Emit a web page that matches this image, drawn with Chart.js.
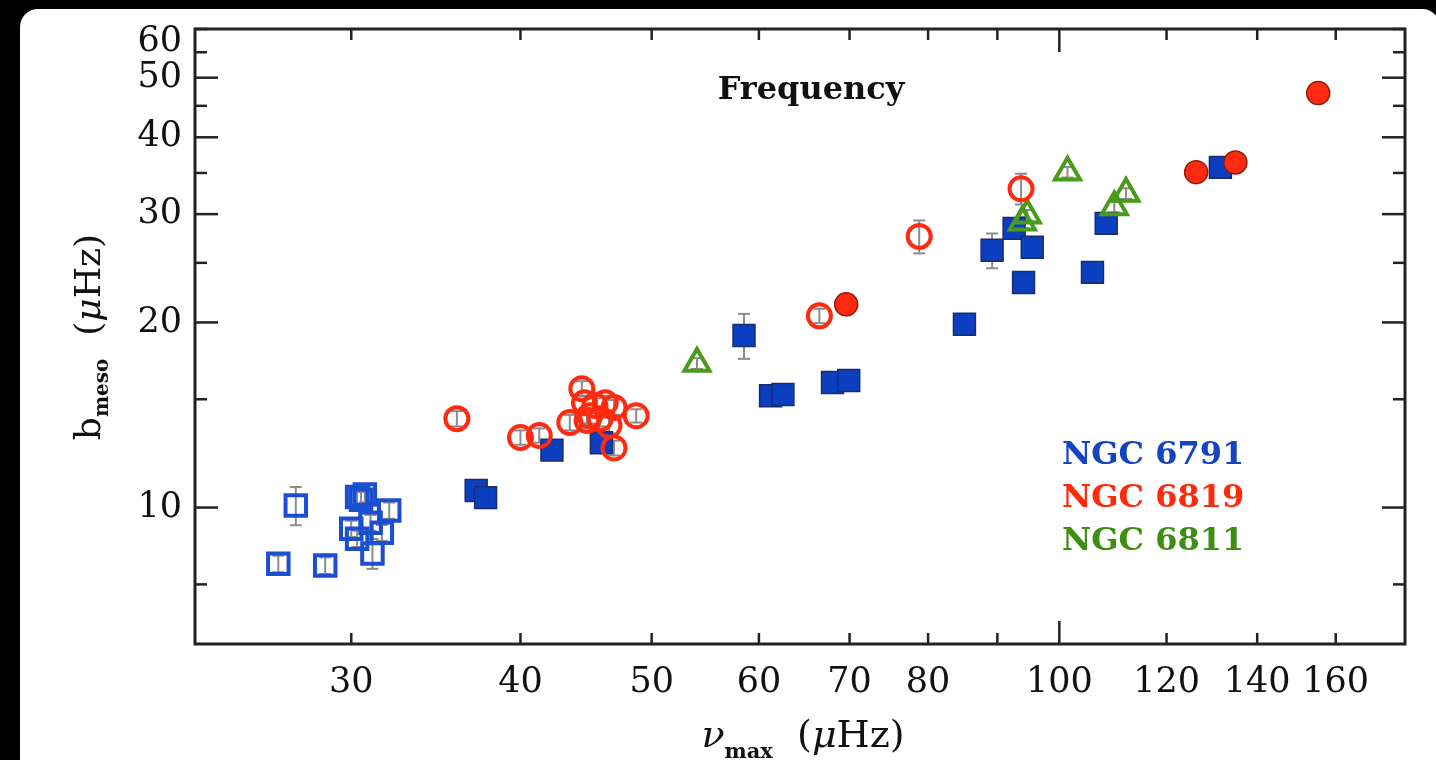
<!DOCTYPE html>
<html>
<head>
<meta charset="utf-8">
<script src="https://cdn.jsdelivr.net/npm/chart.js@4.4.1/dist/chart.umd.min.js"></script>
<style>
  html, body { margin: 0; padding: 0; background: #000; overflow: hidden; }
  .card { position: absolute; left: 20px; top: 9px; width: 1420px; height: 800px; background: #fff; border-radius: 18px; }
  #chart { position: absolute; left: 0; top: 0; }
</style>
</head>
<body>
<div class="card"></div>
<canvas id="chart" width="1436" height="760"></canvas>
<script>
// NGC 6791 - open squares (low numax)
const openSqX = [26.5, 28.7, 27.3, 30.3, 30.7, 30.5, 32.0, 30.0, 30.3, 31.0, 31.6, 31.1]
const openSqY = [8.1, 8.05, 10.08, 10.4, 10.5, 10.3, 9.89, 9.24, 8.9, 9.45, 9.1, 8.42]
const openSqErr = [0.25, 0.25, 0.72, 0.3, 0.3, 0.3, 0.3, 0.28, 0.27, 0.28, 0.27, 0.47]

// NGC 6791 - filled squares
const fillSqX = [37.1, 37.7, 42.2, 45.9, 58.5, 61.2, 62.5, 68.0, 69.9, 85.1, 89.2, 92.6, 95.5, 94.1, 105.8, 108.3, 131.5]
const fillSqY = [10.66, 10.38, 12.4, 12.75, 19.05, 15.2, 15.27, 15.97, 16.09, 19.86, 26.2, 28.44, 26.5, 23.23, 24.12, 28.98, 35.74]
const fillSqErr = [0.3, 0.3, 0.3, 0.3, 1.6, 0.3, 0.3, 0.3, 0.3, 0.5, 1.7, 0.5, 0.5, 0.5, 0.5, 0.5, 0.5]

// NGC 6819 - open circles
const openCirX = [35.9, 40.0, 41.3, 44.4, 43.5, 44.6, 45.4, 46.2, 45.0, 45.8, 46.9, 48.7, 46.9, 46.5, 44.8, 66.5, 78.8, 93.7]
const openCirY = [13.95, 13.0, 13.1, 15.6, 13.75, 14.8, 14.65, 14.8, 14.1, 13.95, 14.55, 14.1, 12.5, 13.6, 13.85, 20.5, 27.6, 33.0]
const openCirErr = [0.4, 0.35, 0.35, 0.45, 0.4, 0.4, 0.4, 0.4, 0.4, 0.4, 0.4, 0.35, 0.35, 0.4, 0.4, 0.55, 1.7, 1.9]

// NGC 6819 - filled circles
const fillCirX = [69.6, 126.2, 134.9, 155.3]
const fillCirY = [21.4, 35.1, 36.4, 47.2]

// NGC 6811 - open triangles
const triX = [54.0, 93.9, 94.7, 101.4, 109.8, 112.0]
const triY = [17.15, 29.09, 29.87, 35.1, 30.8, 32.4]
const triErr = [0.35, 0.6, 0.6, 0.7, 0.6, 0.65]

const xTickValues = [30, 40, 50, 60, 70, 80, 90, 100, 120, 140, 160]
const xTickLabels = ['30', '40', '50', '60', '70', '80', '', '100', '120', '140', '160']
const xMajor = [100]
const yTickValues = [7.5, 10, 15, 20, 25, 30, 35, 40, 45, 50, 55, 60]
const yTickLabels = ['', '10', '', '20', '', '30', '', '40', '', '50', '', '60']
const yMajor = [10, 20, 30, 40, 50]

const legendNames = ['NGC 6791', 'NGC 6819', 'NGC 6811']
const legendColors = ['#1444c4', '#ff2a0c', '#3e8e12']

const BLUE = '#0b3fc0', RED = '#ff2a10', GREEN = '#4a9a1c'
const SERIF = 'DejaVu Serif'

const pts = (xs, ys) => xs.map((x, i) => ({x: x, y: ys[i]}))

function line(ctx, x1, y1, x2, y2){
	ctx.beginPath()
	ctx.moveTo(x1, y1)
	ctx.lineTo(x2, y2)
	ctx.stroke()
}

// grey error bars, drawn under the markers
const errorBars = {
	id: 'errorBars',
	beforeDatasetsDraw(chart){
		const {ctx, scales: {y}} = chart
		ctx.save()
		ctx.strokeStyle = '#8c8c8c'
		ctx.lineWidth = 2
		chart.data.datasets.forEach((ds, di) => {
			if (!ds.errors) return
			const meta = chart.getDatasetMeta(di)
			meta.data.forEach((el, i) => {
				const v = ds.data[i].y, e = ds.errors[i]
				const top = y.getPixelForValue(v + e), bot = y.getPixelForValue(v - e)
				line(ctx, el.x, top, el.x, bot)
				line(ctx, el.x - 6, top, el.x + 6, top)
				line(ctx, el.x - 6, bot, el.x + 6, bot)
			})
		})
		ctx.restore()
	}
}

// box with inward ticks on all four sides
const frame = {
	id: 'frame',
	afterDatasetsDraw(chart){
		const {ctx, chartArea: a, scales: {x, y}} = chart
		ctx.save()
		ctx.strokeStyle = '#222'
		ctx.lineWidth = 2.5
		x.ticks.forEach(t => {
			const px = x.getPixelForValue(t.value)
			const len = xMajor.includes(t.value) ? 23 : 11
			line(ctx, px, a.bottom, px, a.bottom - len)
			line(ctx, px, a.top, px, a.top + len)
		})
		y.ticks.forEach(t => {
			const py = y.getPixelForValue(t.value)
			const len = yMajor.includes(t.value) ? 23 : 12
			line(ctx, a.left, py, a.left + len, py)
			line(ctx, a.right, py, a.right - len, py)
		})
		ctx.lineWidth = 3
		ctx.strokeRect(a.left, a.top, a.right - a.left, a.bottom - a.top)
		ctx.restore()
	}
}

function drawRich(ctx, parts, cx, base){
	let w = 0
	parts.forEach(p => { ctx.font = p[1]; w += ctx.measureText(p[0]).width })
	let x = cx - w / 2
	parts.forEach(p => {
		ctx.font = p[1]
		ctx.fillText(p[0], x, base + p[2])
		x += ctx.measureText(p[0]).width
	})
}

// axis titles with subscripts, panel title and coloured cluster names
const labels = {
	id: 'labels',
	afterDraw(chart){
		const {ctx} = chart
		ctx.save()
		ctx.textAlign = 'left'
		ctx.textBaseline = 'alphabetic'
		ctx.fillStyle = '#111'
		drawRich(ctx, [
			['\u03bd', 'italic 38px ' + SERIF, 0],
			['max', 'bold 21px ' + SERIF, 11],
			['  (', '38px ' + SERIF, 0],
			['\u03bc', 'italic 38px ' + SERIF, 0],
			['Hz)', '38px ' + SERIF, 0]
		], 803, 747)
		ctx.save()
		ctx.translate(100, 337)
		ctx.rotate(-Math.PI / 2)
		drawRich(ctx, [
			['b', '36px ' + SERIF, 0],
			['meso', 'bold 20px ' + SERIF, 8],
			['  (', '36px ' + SERIF, 0],
			['\u03bc', 'italic 36px ' + SERIF, 0],
			['Hz)', '36px ' + SERIF, 0]
		], 0, 0)
		ctx.restore()
		ctx.font = 'bold 32px ' + SERIF
		ctx.textAlign = 'center'
		ctx.fillText('Frequency', 811, 99)
		ctx.textAlign = 'left'
		legendNames.forEach((n, i) => {
			ctx.fillStyle = legendColors[i]
			ctx.fillText(n, 1062, 464 + i * 43)
		})
		ctx.restore()
	}
}

const tickFont = {family: SERIF, size: 35}

new Chart(document.getElementById('chart'), {
	type: 'scatter',
	data: {
		datasets: [
			{ label: 'NGC 6819', data: pts(fillCirX, fillCirY), pointStyle: 'circle', pointRadius: 11.5,
			  backgroundColor: RED, borderColor: '#8e1a08', borderWidth: 1.5 },
			{ label: 'NGC 6819', data: pts(openCirX, openCirY), errors: openCirErr, pointStyle: 'circle', pointRadius: 11.5,
			  backgroundColor: 'rgba(0,0,0,0)', borderColor: RED, borderWidth: 4 },
			{ label: 'NGC 6811', data: pts(triX, triY), errors: triErr, pointStyle: 'triangle', pointRadius: 14.5,
			  backgroundColor: 'rgba(0,0,0,0)', borderColor: GREEN, borderWidth: 4 },
			{ label: 'NGC 6791', data: pts(fillSqX, fillSqY), errors: fillSqErr, pointStyle: 'rect', pointRadius: 15.5,
			  backgroundColor: BLUE, borderColor: '#1b2c6a', borderWidth: 1.5 },
			{ label: 'NGC 6791', data: pts(openSqX, openSqY), errors: openSqErr, pointStyle: 'rect', pointRadius: 14.5,
			  backgroundColor: 'rgba(0,0,0,0)', borderColor: '#1a4fd2', borderWidth: 4 }
		]
	},
	options: {
		responsive: false,
		animation: false,
		events: [],
		layout: { padding: { top: 29, right: 31, left: 0, bottom: 0 } },
		plugins: { legend: { display: false }, tooltip: { enabled: false } },
		scales: {
			x: {
				type: 'logarithmic', min: 23, max: 180,
				grid: { display: false, drawTicks: false },
				border: { display: false },
				afterBuildTicks: s => { s.ticks = xTickValues.map(v => ({value: v})) },
				afterFit: s => { s.height = 116; s.paddingLeft = 0; s.paddingRight = 0 },
				ticks: {
					autoSkip: false, maxRotation: 0, padding: 18, color: '#111', font: tickFont,
					callback: v => xTickLabels[xTickValues.indexOf(v)]
				}
			},
			y: {
				type: 'logarithmic', min: 6, max: 60,
				grid: { display: false, drawTicks: false },
				border: { display: false },
				afterBuildTicks: s => { s.ticks = yTickValues.map(v => ({value: v})) },
				afterFit: s => { s.width = 195; s.paddingTop = 0; s.paddingBottom = 0 },
				ticks: {
					autoSkip: false, padding: 13, color: '#111',
					font: c => (c.tick && c.tick.value === 60 ? {family: SERIF, size: 35, lineHeight: '26px'} : tickFont),
					// the top label sits below its tick, as in the figure
					callback: v => (v === 60 ? ['', '60'] : yTickLabels[yTickValues.indexOf(v)])
				}
			}
		}
	},
	plugins: [errorBars, frame, labels]
})
</script>
</body>
</html>
